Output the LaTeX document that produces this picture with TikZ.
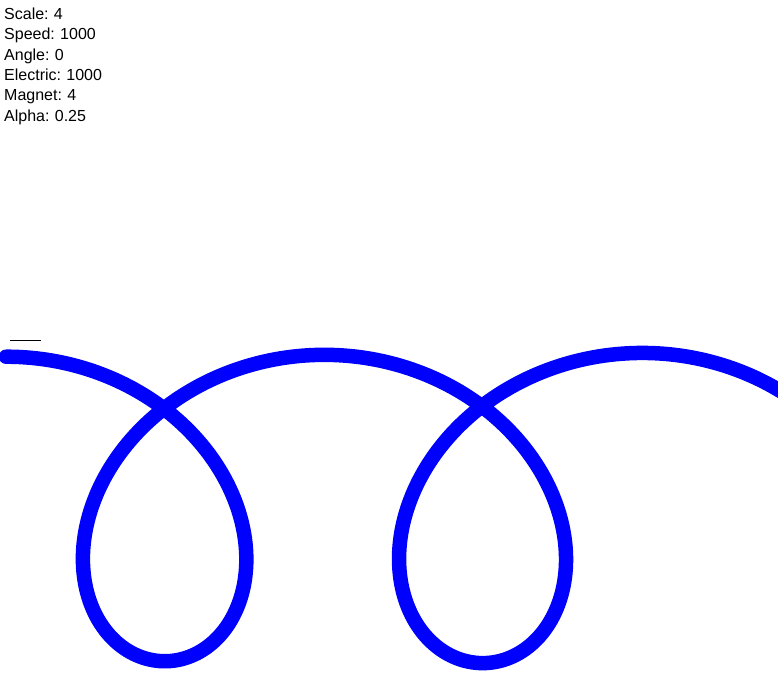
\documentclass[tikz,border=0pt]{standalone}
\usepackage{fontspec}
\setmainfont{Liberation Sans}
\usepackage{xcolor}
\usepackage{tikz}
\usetikzlibrary{positioning}
\tikzstyle{readout} = [inner sep=0pt, text width=120pt, align=left, text height=12pt, text depth=4pt, font=\fontsize{16}{20}\selectfont\frenchspacing]
\tikzstyle{orbit} = [draw=blue, line width=14.5pt, line cap=round, line join=round]
\tikzstyle{marker} = [draw=black, line width=1pt]

\begin{document}
\begin{tikzpicture}[x=1pt, y=1pt, node distance = 4pt]
            \useasboundingbox (0,0) rectangle (778,678);
            \clip (0,0) rectangle (778,678);

            \node[readout, anchor=base west] (scale) at (4,658.7) {Scale: 4};
            \node[readout, below=of scale] (speed) {Speed: 1000};
            \node[readout, below=of speed] (angle) {Angle: 0};
            \node[readout, below=of angle] (electric) {Electric: 1000};
            \node[readout, below=of electric] (magnet) {Magnet: 4};
            \node[readout, below=of magnet] (alpha) {Alpha: 0.25};

            \path[marker] (10,337.7) -- (40.5,337.7);

            % drifting loops
            \path[orbit] plot[domain=0:13.4, samples=400, smooth, variable=\t]
                ({6+50.6*\t+(151.8+0.3*\t)*sin(\t r)}, {169.5+(151.8+0.3*\t)*cos(\t r)});

        \end{tikzpicture}
\end{document}
